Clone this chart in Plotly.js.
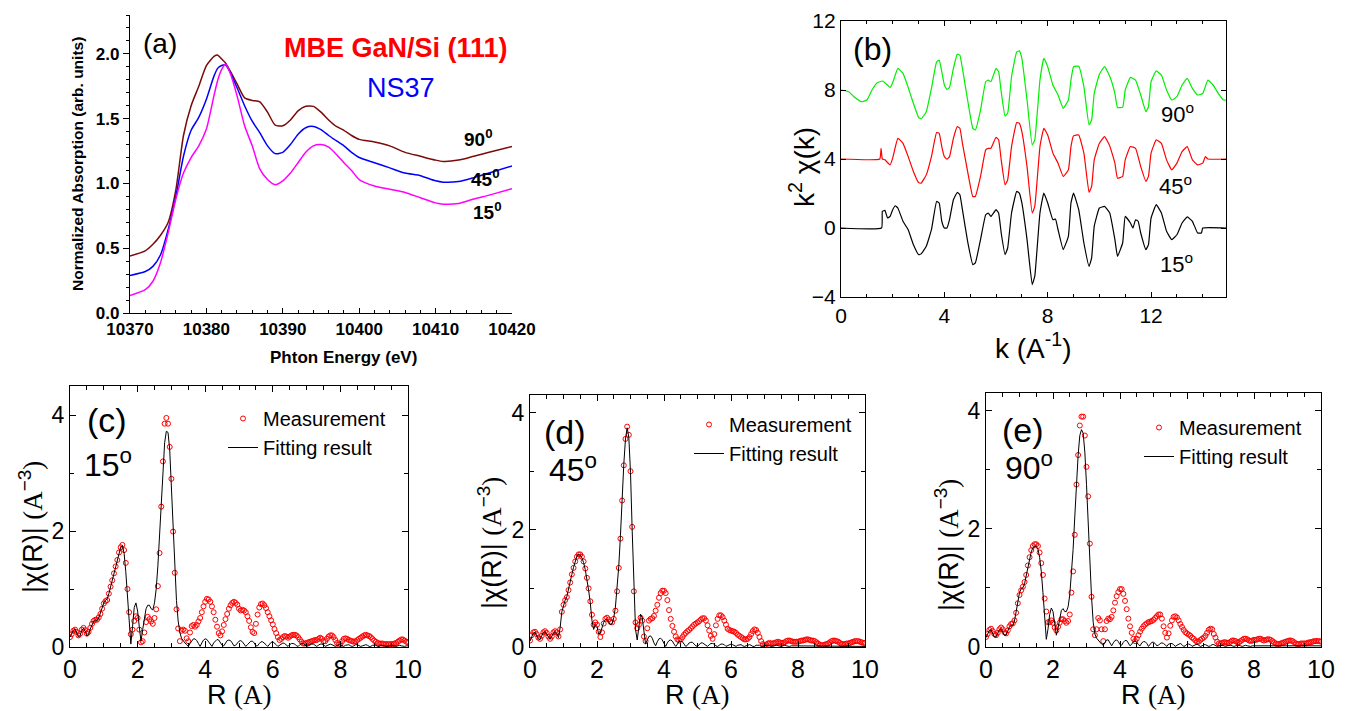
<!DOCTYPE html>
<html>
<head>
<meta charset="utf-8">
<script src="https://cdn.plot.ly/plotly-3.0.1.min.js"></script>
<style>html,body{margin:0;padding:0;background:#fff;}#chart{width:1347px;height:711px;}</style>
</head>
<body>
<div id="chart"></div>
<script>
// ---------- Panel (a): XANES ----------
const energyA = [10370,10372,10373,10374,10375,10376,10377,10378,10379,10380,10381,10381.5,10382,10382.5,10383,10384,10385,10386,10387,10388,10389,10390,10391,10392,10393,10394,10395,10396,10397,10398,10399,10400,10402,10404,10406,10408,10410,10411,10413,10415,10417,10420];
const abs90 = [0.44,0.48,0.53,0.60,0.70,0.95,1.37,1.60,1.75,1.91,1.98,1.99,1.96,1.93,1.88,1.77,1.66,1.64,1.63,1.55,1.45,1.445,1.49,1.56,1.595,1.595,1.55,1.49,1.44,1.41,1.37,1.34,1.32,1.29,1.24,1.21,1.18,1.17,1.18,1.21,1.24,1.285];
const abs45 = [0.29,0.32,0.36,0.45,0.645,0.90,1.21,1.41,1.51,1.65,1.83,1.89,1.91,1.915,1.87,1.74,1.60,1.48,1.39,1.29,1.23,1.24,1.30,1.38,1.43,1.44,1.415,1.37,1.33,1.29,1.24,1.20,1.16,1.12,1.08,1.06,1.02,1.01,1.015,1.045,1.08,1.135];
const abs15 = [0.135,0.18,0.245,0.39,0.62,0.88,1.08,1.20,1.29,1.42,1.68,1.80,1.88,1.92,1.87,1.68,1.445,1.29,1.11,1.03,0.99,1.02,1.08,1.16,1.24,1.29,1.30,1.28,1.225,1.16,1.10,1.03,0.98,0.955,0.93,0.89,0.85,0.84,0.845,0.88,0.91,0.96];

// ---------- Panel (b): k^2 chi(k) ----------
const k90 = [0,0.3,0.5,0.8,1.0,1.2,1.4,1.6,1.8,1.9,2.0,2.2,2.4,2.6,2.8,3.0,3.1,3.3,3.5,3.7,3.8,3.9,4.0,4.1,4.2,4.35,4.5,4.6,4.7,4.9,5.1,5.2,5.4,5.6,5.7,5.8,6.0,6.1,6.2,6.35,6.45,6.6,6.8,6.9,7.0,7.2,7.4,7.5,7.7,7.85,8.0,8.2,8.4,8.6,8.8,8.9,9.0,9.2,9.4,9.6,9.7,9.8,10.0,10.2,10.4,10.6,10.7,10.9,11.0,11.2,11.4,11.6,11.8,11.9,12.0,12.2,12.4,12.6,12.8,13.0,13.2,13.4,13.6,13.8,14.0,14.2,14.4,14.6,14.8,14.9];
const chi90 = [8.0,7.9,7.61,7.32,7.42,8.0,8.42,8.52,8.29,8.15,8.42,9.25,8.96,8.15,7.23,6.42,6.32,6.74,8.09,9.63,9.73,9.06,8.29,8.03,8.15,9.25,10.08,10.02,9.25,7.42,5.78,5.68,6.84,8.48,8.57,8.48,9.25,9.06,7.90,6.49,6.65,8.77,10.21,10.27,9.83,7.42,4.82,5.11,8.57,9.83,9.35,8.29,7.71,6.94,7.42,8.57,9.35,9.38,8.19,5.97,6.26,7.80,8.92,9.35,8.80,7.80,6.99,6.99,8.0,8.73,8.57,7.71,6.74,7.03,8.48,9.11,8.86,8.0,7.42,7.61,8.29,8.67,8.09,7.71,7.80,8.57,8.29,7.80,7.42,7.42];
const k45 = [0,1.5,1.55,1.6,1.7,1.9,2.0,2.2,2.4,2.6,2.8,3.0,3.1,3.3,3.5,3.7,3.8,3.9,4.0,4.1,4.2,4.35,4.5,4.6,4.7,4.9,5.1,5.2,5.4,5.6,5.7,5.8,6.0,6.1,6.2,6.35,6.45,6.6,6.8,6.9,7.0,7.2,7.4,7.5,7.7,7.85,8.0,8.2,8.4,8.6,8.8,8.9,9.0,9.2,9.4,9.6,9.7,9.8,10.0,10.2,10.4,10.6,10.7,10.9,11.0,11.2,11.4,11.6,11.8,11.9,12.0,12.2,12.4,12.6,12.8,13.0,13.2,13.4,13.6,13.8,14.0,14.1,14.2,14.9];
const chi45 = [4.0,4.0,4.62,4.0,3.95,3.66,4.05,5.2,4.91,4.14,3.28,2.64,2.60,3.08,4.14,5.53,5.49,4.72,4.14,3.99,4.14,5.20,5.88,5.78,4.91,3.28,1.83,1.83,2.99,4.53,4.62,4.62,5.26,5.11,3.95,2.50,2.79,4.72,6.11,6.07,5.59,3.56,0.87,1.25,4.72,5.78,5.39,4.34,3.76,2.99,3.37,4.72,5.34,5.39,4.34,2.06,2.41,3.95,4.91,5.30,4.76,3.76,2.89,2.99,3.95,4.72,4.62,3.56,2.70,2.99,4.34,5.11,4.91,3.95,3.37,3.76,4.43,4.72,3.95,3.66,3.76,4.14,4.0,4.0];
const k15 = [0,1.57,1.6,1.7,1.8,1.9,2.0,2.1,2.2,2.4,2.6,2.8,3.0,3.1,3.3,3.5,3.7,3.8,3.9,4.0,4.1,4.2,4.35,4.5,4.6,4.7,4.9,5.1,5.2,5.4,5.6,5.7,5.8,6.0,6.1,6.2,6.35,6.45,6.6,6.8,6.9,7.0,7.2,7.4,7.5,7.7,7.85,8.0,8.2,8.3,8.4,8.6,8.8,8.9,9.0,9.2,9.4,9.6,9.7,9.8,10.0,10.2,10.4,10.6,10.7,10.9,11.0,11.2,11.3,11.4,11.5,11.6,11.8,11.9,12.0,12.2,12.4,12.6,12.8,13.0,13.2,13.4,13.6,13.8,13.95,14.0,14.9];
const chi15 = [0,0,0.96,1.02,0.58,0.67,1.06,1.29,1.16,0.39,-0.10,-0.96,-1.54,-1.50,-1.06,-0.10,1.54,1.45,0.39,0,0,0.48,1.64,2.06,1.93,1.06,-0.77,-2.12,-2.02,-0.67,0.77,0.87,0.67,1.06,0.87,-0.29,-1.54,-1.16,0.87,2.12,2.02,1.45,-0.67,-3.28,-2.79,0.87,2.02,1.45,0.48,0.52,-0.10,-1.25,-0.48,1.45,2.02,1.06,-0.87,-2.22,-1.73,0.10,1.16,1.25,0.87,-0.67,-1.64,-0.87,0.67,0.29,0,0.48,0.39,-0.29,-1.25,-0.96,0.58,1.35,0.87,-0.19,-0.67,-0.39,0.29,0.64,0.39,-0.29,-0.29,0,0];

// ---------- Panels (c),(d),(e): |chi(R)| ----------
const R = [0,0.05,0.1,0.15,0.2,0.25,0.3,0.35,0.4,0.45,0.5,0.55,0.6,0.65,0.7,0.75,0.8,0.85,0.9,0.95,
1,1.05,1.1,1.15,1.2,1.25,1.3,1.35,1.4,1.45,1.5,1.55,1.6,1.65,1.7,1.75,1.8,1.85,1.9,1.95,
2,2.05,2.1,2.15,2.2,2.25,2.3,2.35,2.4,2.45,2.5,2.55,2.6,2.65,2.7,2.75,2.8,2.85,2.9,2.95,
3,3.05,3.1,3.15,3.2,3.25,3.3,3.35,3.4,3.45,3.5,3.55,3.6,3.65,3.7,3.75,3.8,3.85,3.9,3.95,
4,4.05,4.1,4.15,4.2,4.25,4.3,4.35,4.4,4.45,4.5,4.55,4.6,4.65,4.7,4.75,4.8,4.85,4.9,4.95,
5,5.05,5.1,5.15,5.2,5.25,5.3,5.35,5.4,5.45,5.5,5.55,5.6,5.65,5.7,5.75,5.8,5.85,5.9,5.95,
6,6.05,6.1,6.15,6.2,6.25,6.3,6.35,6.4,6.45,6.5,6.55,6.6,6.65,6.7,6.75,6.8,6.85,6.9,6.95,
7,7.05,7.1,7.15,7.2,7.25,7.3,7.35,7.4,7.45,7.5,7.55,7.6,7.65,7.7,7.75,7.8,7.85,7.9,7.95,
8,8.05,8.1,8.15,8.2,8.25,8.3,8.35,8.4,8.45,8.5,8.55,8.6,8.65,8.7,8.75,8.8,8.85,8.9,8.95,
9,9.05,9.1,9.15,9.2,9.25,9.3,9.35,9.4,9.45,9.5,9.55,9.6,9.65,9.7,9.75,9.8,9.85,9.9,9.95,10];

const meas15 = [0.17,0.22,0.28,0.30,0.26,0.20,0.23,0.30,0.33,0.29,0.23,0.26,0.33,0.40,0.45,0.47,0.47,0.51,0.57,0.66,
0.75,0.79,0.81,0.92,1.04,1.15,1.27,1.39,1.50,1.63,1.72,1.76,1.67,1.45,1.00,0.60,0.22,0.30,0.45,0.53,
0.50,0.30,0.08,0.10,0.25,0.43,0.52,0.48,0.44,0.40,0.50,0.65,1.05,1.62,2.42,3.20,3.85,3.95,3.85,3.45,
2.90,1.99,1.28,0.65,0.32,0.10,0.28,0.30,0.28,0.15,0.10,0.25,0.36,0.38,0.35,0.38,0.44,0.50,0.60,0.70,
0.78,0.83,0.82,0.78,0.70,0.60,0.47,0.35,0.24,0.20,0.27,0.38,0.48,0.57,0.66,0.72,0.76,0.78,0.76,0.73,
0.66,0.63,0.64,0.63,0.60,0.53,0.45,0.34,0.26,0.24,0.40,0.56,0.68,0.74,0.75,0.72,0.67,0.60,0.53,0.46,
0.39,0.31,0.24,0.17,0.12,0.14,0.17,0.19,0.18,0.16,0.18,0.20,0.21,0.21,0.20,0.17,0.13,0.09,0.06,0.06,
0.07,0.08,0.09,0.10,0.11,0.12,0.12,0.14,0.16,0.14,0.10,0.10,0.14,0.18,0.20,0.20,0.17,0.12,0.07,0.04,
0.05,0.10,0.14,0.15,0.14,0.12,0.11,0.10,0.09,0.10,0.12,0.14,0.16,0.18,0.20,0.21,0.20,0.19,0.17,0.14,
0.11,0.09,0.07,0.06,0.06,0.06,0.05,0.05,0.05,0.05,0.05,0.05,0.06,0.07,0.09,0.11,0.13,0.13,0.11,0.09,0.08];
const fit15 = [0.17,0.22,0.29,0.31,0.25,0.17,0.20,0.29,0.32,0.27,0.19,0.22,0.31,0.38,0.44,0.46,0.46,0.50,0.58,0.68,
0.76,0.80,0.83,0.92,1.04,1.16,1.28,1.40,1.52,1.63,1.72,1.75,1.62,1.30,0.85,0.40,0.05,0.35,0.68,0.76,
0.62,0.35,0.10,0.30,0.52,0.66,0.72,0.72,0.66,0.64,0.76,1.00,1.40,1.95,2.55,3.10,3.52,3.72,3.70,3.40,
2.80,2.05,1.35,0.80,0.45,0.25,0.15,0.10,0.07,0.04,0.01,0.06,0.11,0.14,0.14,0.11,0.06,0.01,0.07,0.12,
0.14,0.13,0.09,0.04,0.01,0.07,0.11,0.13,0.12,0.08,0.03,0.02,0.07,0.11,0.12,0.11,0.07,0.02,0.03,0.07,
0.10,0.11,0.09,0.05,0.01,0.04,0.08,0.10,0.10,0.07,0.02,0.02,0.06,0.09,0.09,0.07,0.04,0.01,0.05,0.08,
0.09,0.07,0.04,0.01,0.03,0.06,0.07,0.06,0.03,0.01,0.04,0.06,0.06,0.05,0.02,0.01,0.04,0.06,0.06,0.04,
0.01,0.02,0.04,0.05,0.05,0.03,0.01,0.03,0.05,0.05,0.04,0.01,0.02,0.04,0.05,0.04,0.02,0.01,0.03,0.04,
0.04,0.02,0.01,0.03,0.04,0.04,0.02,0.01,0.02,0.04,0.04,0.03,0.01,0.02,0.03,0.04,0.03,0.01,0.01,0.03,
0.03,0.03,0.01,0.01,0.03,0.03,0.02,0.01,0.01,0.02,0.03,0.02,0.01,0.01,0.02,0.03,0.02,0.01,0.01,0.02,0.02];

const meas45 = [0.11,0.20,0.25,0.26,0.22,0.16,0.14,0.19,0.25,0.27,0.24,0.18,0.14,0.18,0.25,0.27,0.25,0.18,0.30,0.60,
0.72,0.80,0.85,0.97,1.10,1.24,1.35,1.46,1.54,1.58,1.58,1.54,1.46,1.34,1.18,1.00,0.78,0.55,0.38,0.42,
0.38,0.26,0.17,0.25,0.40,0.48,0.50,0.47,0.43,0.42,0.48,0.62,0.95,1.35,1.85,2.50,3.10,3.55,3.76,3.62,
3.00,2.05,0.95,0.42,0.32,0.38,0.50,0.45,0.18,0.10,0.32,0.45,0.48,0.49,0.53,0.62,0.72,0.84,0.92,0.96,
0.96,0.92,0.80,0.63,0.48,0.36,0.26,0.18,0.13,0.11,0.13,0.17,0.21,0.24,0.27,0.29,0.32,0.35,0.38,0.40,
0.42,0.44,0.47,0.49,0.49,0.45,0.37,0.28,0.19,0.14,0.22,0.37,0.48,0.54,0.54,0.51,0.45,0.38,0.31,0.29,
0.28,0.27,0.26,0.24,0.21,0.19,0.17,0.15,0.13,0.13,0.14,0.17,0.22,0.27,0.30,0.29,0.24,0.17,0.10,0.05,
0.03,0.04,0.06,0.07,0.06,0.06,0.07,0.08,0.09,0.08,0.07,0.07,0.08,0.10,0.11,0.11,0.10,0.09,0.09,0.09,
0.09,0.10,0.11,0.11,0.12,0.13,0.13,0.12,0.11,0.11,0.10,0.08,0.06,0.04,0.03,0.03,0.04,0.05,0.06,0.08,
0.10,0.11,0.11,0.10,0.09,0.07,0.05,0.05,0.05,0.06,0.06,0.07,0.08,0.09,0.10,0.10,0.10,0.09,0.08,0.07,0.07];
const fit45 = [0.10,0.19,0.24,0.25,0.20,0.14,0.13,0.19,0.25,0.26,0.22,0.16,0.13,0.18,0.24,0.26,0.23,0.16,0.33,0.60,
0.72,0.80,0.86,0.97,1.10,1.24,1.36,1.47,1.55,1.58,1.57,1.52,1.44,1.32,1.16,0.97,0.75,0.45,0.30,0.38,
0.35,0.22,0.24,0.35,0.42,0.47,0.47,0.42,0.38,0.40,0.50,0.68,0.98,1.38,1.90,2.55,3.12,3.55,3.74,3.58,
2.98,2.00,0.98,0.30,0.12,0.35,0.56,0.50,0.22,0.05,0.12,0.18,0.19,0.15,0.07,0.02,0.09,0.14,0.15,0.12,
0.06,0.01,0.07,0.11,0.12,0.10,0.05,0.01,0.05,0.09,0.10,0.09,0.05,0.01,0.03,0.07,0.08,0.08,0.05,0.02,
0.01,0.05,0.07,0.07,0.05,0.02,0.01,0.04,0.06,0.06,0.05,0.02,0.01,0.03,0.05,0.05,0.04,0.01,0.02,0.04,
0.05,0.04,0.02,0.01,0.03,0.04,0.04,0.02,0.01,0.02,0.03,0.04,0.03,0.01,0.01,0.03,0.03,0.03,0.01,0.01,
0.02,0.03,0.03,0.02,0.01,0.01,0.02,0.03,0.02,0.01,0.01,0.02,0.03,0.02,0.01,0.01,0.02,0.02,0.02,0.01,
0.01,0.02,0.02,0.01,0.01,0.01,0.02,0.02,0.01,0.01,0.01,0.02,0.02,0.01,0.01,0.01,0.02,0.02,0.01,0.01,
0.01,0.02,0.02,0.01,0.01,0.01,0.02,0.02,0.01,0.01,0.01,0.02,0.02,0.01,0.01,0.01,0.02,0.02,0.01,0.01,0.01];

const meas90 = [0.17,0.22,0.29,0.31,0.27,0.22,0.20,0.24,0.30,0.33,0.30,0.25,0.23,0.28,0.35,0.39,0.40,0.45,0.58,0.74,
0.88,0.96,1.02,1.10,1.22,1.38,1.52,1.64,1.71,1.74,1.74,1.71,1.60,1.42,1.22,0.82,0.60,0.42,0.42,0.45,
0.41,0.33,0.28,0.34,0.41,0.47,0.47,0.44,0.41,0.44,0.55,0.92,1.28,1.90,2.75,3.25,3.75,3.90,3.90,3.58,
3.05,2.55,1.75,0.85,0.30,0.20,0.30,0.49,0.45,0.30,0.10,0.30,0.44,0.48,0.47,0.51,0.62,0.75,0.86,0.93,
0.98,0.98,0.90,0.78,0.64,0.48,0.35,0.24,0.14,0.10,0.14,0.20,0.26,0.31,0.35,0.38,0.40,0.42,0.43,0.44,
0.46,0.49,0.52,0.55,0.55,0.48,0.35,0.24,0.16,0.23,0.36,0.45,0.51,0.52,0.50,0.45,0.39,0.34,0.29,0.25,
0.23,0.21,0.19,0.16,0.14,0.11,0.09,0.09,0.12,0.14,0.16,0.19,0.24,0.29,0.31,0.30,0.22,0.16,0.09,0.06,
0.06,0.07,0.08,0.08,0.07,0.07,0.09,0.11,0.11,0.10,0.08,0.08,0.10,0.12,0.14,0.14,0.13,0.11,0.10,0.11,
0.12,0.12,0.13,0.14,0.14,0.12,0.11,0.12,0.13,0.13,0.12,0.10,0.08,0.06,0.05,0.05,0.06,0.07,0.08,0.09,
0.10,0.11,0.11,0.10,0.08,0.06,0.05,0.05,0.06,0.06,0.06,0.06,0.07,0.08,0.08,0.09,0.10,0.10,0.10,0.10,0.09];
const fit90 = [0.16,0.22,0.28,0.29,0.24,0.17,0.17,0.23,0.29,0.30,0.26,0.20,0.20,0.27,0.34,0.37,0.37,0.44,0.60,0.78,
0.92,0.99,1.00,1.07,1.20,1.36,1.50,1.61,1.68,1.70,1.70,1.66,1.52,1.28,0.92,0.50,0.13,0.30,0.55,0.66,
0.60,0.40,0.20,0.32,0.50,0.62,0.65,0.60,0.60,0.68,0.88,1.20,1.65,2.20,2.78,3.25,3.58,3.68,3.62,3.30,
2.75,2.05,1.40,0.85,0.42,0.22,0.15,0.11,0.08,0.05,0.03,0.08,0.12,0.12,0.08,0.02,0.07,0.11,0.12,0.09,
0.04,0.03,0.08,0.11,0.11,0.07,0.02,0.05,0.09,0.10,0.08,0.04,0.02,0.07,0.09,0.09,0.06,0.01,0.05,0.08,
0.08,0.06,0.02,0.03,0.06,0.07,0.06,0.03,0.01,0.05,0.06,0.06,0.04,0.01,0.03,0.05,0.06,0.04,0.01,0.02,
0.05,0.05,0.04,0.01,0.02,0.04,0.05,0.03,0.01,0.02,0.04,0.04,0.03,0.01,0.02,0.04,0.04,0.02,0.01,0.02,
0.03,0.03,0.02,0.01,0.02,0.03,0.03,0.02,0.01,0.02,0.03,0.03,0.02,0.01,0.02,0.03,0.02,0.01,0.01,0.02,
0.02,0.02,0.01,0.01,0.02,0.02,0.02,0.01,0.01,0.02,0.02,0.02,0.01,0.01,0.02,0.02,0.02,0.01,0.01,0.02,
0.02,0.02,0.01,0.01,0.02,0.02,0.02,0.01,0.01,0.02,0.02,0.02,0.01,0.01,0.02,0.02,0.02,0.01,0.01,0.02,0.02];

// ---------- layout helpers ----------
const W = 1347, H = 711;
const fx = p => p / W;
const fy = p => 1 - p / H;
const FONT = 'Liberation Sans, Arial, sans-serif';
const SERIF = 'Liberation Serif, Times New Roman, serif';

function lineTrace(x, y, color, xa, ya, width, smooth) {
  return {x: x, y: y, xaxis: xa, yaxis: ya, type: 'scatter', mode: 'lines',
          line: {color: color, width: width || 1.4, shape: 'spline', smoothing: smooth || 0.6},
          showlegend: false, hoverinfo: 'skip'};
}
function measTrace(y, xa, ya, lg) {
  return {x: R, y: y, xaxis: xa, yaxis: ya, type: 'scatter', mode: 'markers', name: 'Measurement',
          marker: {symbol: 'circle-open', size: 5, color: '#ff0000', line: {width: 1, color: '#ff0000'}},
          legend: lg, showlegend: true};
}
function fitTrace(y, xa, ya, lg) {
  return {x: R, y: y, xaxis: xa, yaxis: ya, type: 'scatter', mode: 'lines', name: 'Fitting result',
          line: {color: '#000000', width: 1}, legend: lg, showlegend: true};
}

const traces = [
  lineTrace(energyA, abs90, '#7b0a0a', 'x', 'y', 1.5),
  lineTrace(energyA, abs45, '#0000ff', 'x', 'y', 1.5),
  lineTrace(energyA, abs15, '#ff00ff', 'x', 'y', 1.5),
  lineTrace(k90, chi90, '#00ee00', 'x2', 'y2', 1.2, 0.35),
  lineTrace(k45, chi45, '#ff0000', 'x2', 'y2', 1.2, 0.35),
  lineTrace(k15, chi15, '#000000', 'x2', 'y2', 1.2, 0.35),
  measTrace(meas15, 'x3', 'y3', 'legend'),
  fitTrace(fit15, 'x3', 'y3', 'legend'),
  measTrace(meas45, 'x4', 'y4', 'legend2'),
  fitTrace(fit45, 'x4', 'y4', 'legend2'),
  measTrace(meas90, 'x5', 'y5', 'legend3'),
  fitTrace(fit90, 'x5', 'y5', 'legend3')
];

const boxAxis = (extra) => Object.assign({
  showline: true, linecolor: '#000', linewidth: 1.2, mirror: 'ticks', ticks: 'inside',
  ticklen: 6, tickwidth: 1, tickcolor: '#000', showgrid: false, zeroline: false,
  tickfont: {family: FONT, size: 23, color: '#000'}
}, extra);
const rX = (dom, anc) => boxAxis({domain: dom, anchor: anc, range: [0, 10], dtick: 2,
          minor: {dtick: 0.5, ticks: 'inside', ticklen: 4, tickcolor: '#000'},
          tickfont: {family: FONT, size: 25, color: '#000'}});
const rY = (dom, anc, top) => boxAxis({domain: dom, anchor: anc, range: [0, top], dtick: 2,
          minor: {dtick: 1, ticks: 'inside', ticklen: 4, tickcolor: '#000'},
          tickfont: {family: FONT, size: 23, color: '#000'}});

const layout = {
  width: W, height: H, margin: {l: 0, r: 0, t: 0, b: 0},
  paper_bgcolor: '#fff', plot_bgcolor: 'rgba(0,0,0,0)',
  font: {family: FONT, color: '#000'},
  // (a)
  xaxis: {domain: [fx(130), fx(512)], anchor: 'y', range: [10370, 10420], dtick: 10, tick0: 10370,
          tickformat: 'd',
          showline: true, linecolor: '#000', linewidth: 1.2, ticks: 'inside', ticklen: 5, tickcolor: '#000',
          minor: {dtick: 2, ticks: 'inside', ticklen: 3, tickcolor: '#000'},
          showgrid: false, zeroline: false, tickfont: {family: FONT, size: 17, weight: 'bold'}},
  yaxis: {domain: [fy(313), fy(15)], anchor: 'x', range: [0, 2.3], dtick: 0.5, tickformat: '.1f',
          showline: true, linecolor: '#000', linewidth: 1.2, ticks: 'outside', ticklen: 6, tickcolor: '#000',
          minor: {dtick: 0.1, ticks: 'outside', ticklen: 3, tickcolor: '#000'},
          showgrid: false, zeroline: false, tickfont: {family: FONT, size: 17, weight: 'bold'}},
  // (b)
  xaxis2: boxAxis({domain: [fx(841), fx(1226)], anchor: 'y2', range: [0, 14.9], dtick: 4, ticklen: 5,
          minor: {dtick: 1, ticks: 'inside', ticklen: 3, tickcolor: '#000'},
          tickfont: {family: FONT, size: 21}}),
  yaxis2: boxAxis({domain: [fy(297), fy(21)], anchor: 'x2', range: [-4, 12], dtick: 4, ticklen: 5,
          tickfont: {family: FONT, size: 21}}),
  // (c),(d),(e)
  xaxis3: rX([fx(70), fx(408)], 'y3'),
  yaxis3: rY([fy(647), fy(386)], 'x3', 4.5),
  xaxis4: rX([fx(530), fx(865)], 'y4'),
  yaxis4: rY([fy(647), fy(395)], 'x4', 4.3),
  xaxis5: rX([fx(986), fx(1321)], 'y5'),
  yaxis5: rY([fy(647), fy(393)], 'x5', 4.3),
  legend: {x: fx(223), y: fy(399), xanchor: 'left', yanchor: 'top', bgcolor: 'rgba(0,0,0,0)',
           font: {family: FONT, size: 20}, tracegroupgap: 0, itemwidth: 30},
  legend2: {x: fx(689), y: fy(405), xanchor: 'left', yanchor: 'top', bgcolor: 'rgba(0,0,0,0)',
           font: {family: FONT, size: 20}, tracegroupgap: 0, itemwidth: 30},
  legend3: {x: fx(1139), y: fy(408), xanchor: 'left', yanchor: 'top', bgcolor: 'rgba(0,0,0,0)',
           font: {family: FONT, size: 20}, tracegroupgap: 0, itemwidth: 30},
  annotations: []
};

function txt(text, x, y, size, opts) {
  return Object.assign({text: text, x: fx(x), y: fy(y), xref: 'paper', yref: 'paper',
    xanchor: 'center', yanchor: 'middle', showarrow: false,
    font: {family: FONT, size: size, color: '#000'}}, opts || {});
}
const A = layout.annotations;
// (a)
A.push(txt('(a)', 160, 43, 28));
A.push(txt('<b>MBE GaN/Si (111)</b>', 396, 48, 27, {font: {family: FONT, size: 27, color: '#ff0000'}}));
A.push(txt('NS37', 401, 88, 27, {font: {family: FONT, size: 27, color: '#0000ff'}}));
A.push(txt('<b>90<sup>0</sup></b>', 479, 138, 19));
A.push(txt('<b>45<sup>0</sup></b>', 485, 178, 19));
A.push(txt('<b>15<sup>0</sup></b>', 487, 211, 19));
A.push(txt('<b>Normalized Absorption (arb. units)</b>', 77, 164, 15.5, {textangle: -90}));
A.push(txt('<b>Phton Energy (eV)</b>', 344, 357, 17));
// (b)
A.push(txt('(b)', 872, 49, 32));
A.push(txt('90<sup>o</sup>', 1177, 113, 22));
A.push(txt('45<sup>o</sup>', 1175, 185, 22));
A.push(txt('15<sup>o</sup>', 1176, 263, 22));
A.push(txt('k<sup>2</sup> \u03c7(k)', 802, 167, 28, {textangle: -90}));
A.push(txt('k (A<sup>-1</sup>)', 1033, 346, 28));
// (c)
const RA = 'R <span style="font-family:' + SERIF + '">(A)</span>';
const YA = '|\u03c7(R)| <span style="font-family:' + SERIF + '">(A</span><sup>\u22123</sup><span style="font-family:' + SERIF + '">)</span>';
A.push(txt('(c)', 107, 420, 34));
A.push(txt('15<sup>o</sup>', 108, 463, 32));
A.push(txt(YA, 31, 527, 27, {textangle: -90}));
A.push(txt(RA, 239, 695, 27));
// (d)
A.push(txt('(d)', 565, 432, 34));
A.push(txt('45<sup>o</sup>', 573, 468, 32));
A.push(txt(YA, 490, 543, 27, {textangle: -90}));
A.push(txt(RA, 697, 695, 27));
// (e)
A.push(txt('(e)', 1023, 430, 34));
A.push(txt('90<sup>o</sup>', 1029, 466, 32));
A.push(txt(YA, 947, 545, 27, {textangle: -90}));
A.push(txt(RA, 1153, 695, 27));

Plotly.newPlot('chart', traces, layout, {displayModeBar: false, staticPlot: true});
</script>
</body>
</html>
